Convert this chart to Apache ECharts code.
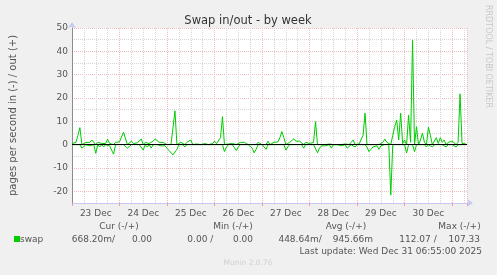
<!DOCTYPE html>
<html><head><meta charset="utf-8">
<script src="https://cdn.jsdelivr.net/npm/echarts@6/dist/echarts.min.js"></script>
<style>html,body{margin:0;padding:0;background:#f0f0f0}#c{width:497px;height:275px}</style>
</head><body><div id="c"></div>
<script>
// hourly samples starting 23 Dec 00:00
const swapOut = [
0.5,0,1,4,7.3,0,0.5,1,1.5,1,2,1.2,0,1,1.5,0.5,1,0.5,2.3,0.5,
0.3,0,1,0.8,1.2,2,5.3,6,0,0.5,1.5,0.5,1,0.8,1,2.4,0,1,1,0.5,
0,1.5,2.5,3,1,1.5,1,0.5,0,0,0,0,14.5,0,0.5,1,0.5,0,1,0.5,
2,0,0.5,0.3,0.5,0,0.3,0.5,1,0,0.3,0.5,1.5,0.5,1,3,12,0,0,0.3,
1,0.5,1,0,0,1,0.8,1,0.3,0,0,0,0,0,1,0.5,0,0,0,1.5,
0,0.5,1,0.8,1.2,3,5.6,3,0,0,1,1.5,2.5,1.5,1,1.5,0.8,0,1,0.5,
0.5,0.8,1,9.9,0,0,0,0.3,0,0,0.3,0,0,0.3,0,0,0,0,0.3,0,
0,1,2,0,0,0.3,0.5,4,13.5,0,0,0,0,0,0,0,0,1,2.4,1,
1.5,0,4,7.7,10.6,2,13.5,0.5,2,0,12.7,1,44.7,0,7.7,0,2,5,1,0,
7.5,4,0,0.5,3,0.5,3,1,2,0,1,1.5,1.5,1.5,0,1,21.8,0.5,0.5,0.3
];
const swapIn = [
0,-0.8,0,0,0,-1.5,-1,0,0,-0.5,0,0,-3.7,0,-1,0,-1,0,0,-0.5,
0,-4.1,0,-0.5,0,0,0,0,-1.5,-1.5,0,0,0,-0.5,0,0,-2.3,0,-1,0,
-1.5,0,0,0,0,-0.5,0,-0.5,-1.5,-2.5,-2,-4.4,-4,-2,0,-0.5,0,-1,0,0,
0,-0.5,0,0,0,0,0,0,0,0,0,0,0,0,0,0,0,-3,-1,0,
0,0,0,-2.5,-1,0,0,0,0,0,-0.5,-1.5,-3.5,-2,0,0,0,-0.5,-2,0,
-0.5,0,0,0,0,0,0,0,-2.3,-1,0,0,0,0,0,0,0,-1.5,0,0,
0,0,0,0,-3.5,-1.5,-0.5,0,-0.5,0,0,-1.5,0,0,0,0,-0.5,-1,0,-1.5,
-1,0,0,-1,0,0,0,0,0,-1,-3,-2,-1,-1,-0.5,-2,-0.5,0,0,0,
0,-21.6,0,0,0,0,0,0,0,-3.6,0,0,0,-3,0,-0.5,0,0,0,-1,
0,0,-1,0,0,0,0,0,0,-1,0,0,0,0,-1,0,0,0,0,0
];
const dayLabels = ['23 Dec','24 Dec','25 Dec','26 Dec','27 Dec','28 Dec','29 Dec','30 Dec'];
const statHeaders = ['Cur (-/+)','Min (-/+)','Avg (-/+)','Max (-/+)'];
const statIn = ['668.20m/','0.00 /','448.64m/','112.07 /'];
const statOut = ['0.00','0.00','945.66m','107.33'];
const seriesName = 'swap';
const lastUpdate = 'Last update: Wed Dec 31 06:55:00 2025';

const FONT = 'DejaVu Sans';
const red = '#f2bcbc', grey = '#d6d6d6', axisC = '#c8c8f4';
const chart = echarts.init(document.getElementById('c'), null, {renderer:'canvas'});
const outData = swapOut.map((v,i)=>[i,v]);
const inData = swapIn.map((v,i)=>[i,v]);
const labelVals = dayLabels.map((d,i)=>12+24*i);

const g = [];
g.push({type:'text', x:248, y:21, style:{text:'Swap in/out - by week', font:'11.5px '+FONT, fill:'#333', align:'center', verticalAlign:'middle'}});
g.push({type:'text', x:488, y:5, rotation:-Math.PI/2, style:{text:'RRDTOOL / TOBI OETIKER', font:'8px '+FONT, fill:'#c8c8c8', align:'left', verticalAlign:'middle'}});
const hx = [119,233,346,459.5];
statHeaders.forEach((t,i)=>g.push({type:'text', x:hx[i], y:227, style:{text:t, font:'9px '+FONT, fill:'#555', align:'center', verticalAlign:'middle'}}));
g.push({type:'rect', shape:{x:14, y:236, width:6, height:6}, style:{fill:'#00cc00'}});
g.push({type:'text', x:20, y:239.5, style:{text:seriesName, font:'9px '+FONT, fill:'#555', align:'left', verticalAlign:'middle'}});
const inX = [115,213.3,321.7,436.7], outX = [152,253,373,480];
statIn.forEach((t,i)=>g.push({type:'text', x:inX[i], y:239.5, style:{text:t, font:'9px '+FONT, fill:'#555', align:'right', verticalAlign:'middle'}}));
statOut.forEach((t,i)=>g.push({type:'text', x:outX[i], y:239.5, style:{text:t, font:'9px '+FONT, fill:'#555', align:'right', verticalAlign:'middle'}}));
g.push({type:'text', x:482, y:251.5, style:{text:lastUpdate, font:'9px '+FONT, fill:'#555', align:'right', verticalAlign:'middle'}});
g.push({type:'text', x:248, y:263.5, style:{text:'Munin 2.0.76', font:'7.5px '+FONT, fill:'#d0d0d0', align:'center', verticalAlign:'middle'}});

chart.setOption({
  animation:false,
  backgroundColor:'#f0f0f0',
  textStyle:{fontFamily:FONT},
  graphic:g,
  grid:{left:68, top:28, width:399, height:175, show:true, backgroundColor:'#fff', borderWidth:0},
  xAxis:{type:'value', min:0, max:199.5, interval:24,
    axisLine:{show:true, onZero:false, lineStyle:{color:axisC}, symbol:['none','arrow'], symbolSize:[6,6], symbolOffset:[0,6]},
    axisTick:{show:true, length:3, lineStyle:{color:'#eaa0a0'}},
    axisLabel:{customValues:labelVals, formatter:v=>dayLabels[Math.round((v-12)/24)]||'', color:'#555', fontSize:9, fontFamily:FONT, margin:6},
    splitLine:{show:true, lineStyle:{color:red, type:[1,1], width:1}},
    minorTick:{show:false, splitNumber:4},
    minorSplitLine:{show:true, lineStyle:{color:grey, type:[1,1], width:1}}
  },
  yAxis:[{type:'value', min:-25, max:50, interval:5,
    name:'pages per second in (-) / out (+)', nameLocation:'middle', nameGap:54, nameRotate:90,
    nameTextStyle:{color:'#555', fontSize:10, fontFamily:FONT},
    axisLine:{show:true, onZero:false, lineStyle:{color:axisC}, symbol:['none','arrow'], symbolSize:[6,6], symbolOffset:[0,6]},
    axisTick:{show:false},
    axisLabel:{formatter:v=>(v%10===0?String(v):''), color:'#555', fontSize:9, fontFamily:FONT, margin:4},
    splitLine:{show:true, lineStyle:{color:[grey,red], type:[1,1], width:1}}
  },{type:'value', min:-25, max:50, position:'right',
    axisLine:{show:true, lineStyle:{color:'#8c8c8c'}}, axisTick:{show:false}, axisLabel:{show:false}, splitLine:{show:false}}],
  series:[
    {name:'in', type:'line', data:inData, showSymbol:false, lineStyle:{color:'#00cc00', width:1}, itemStyle:{color:'#00cc00'}},
    {name:'out', type:'line', data:outData, showSymbol:false, lineStyle:{color:'#00cc00', width:1}, itemStyle:{color:'#00cc00'},
      markLine:{silent:true, symbol:'none', label:{show:false}, data:[{yAxis:0}], lineStyle:{color:'#000', type:'solid', width:1}}}
  ]
});
</script></body></html>
